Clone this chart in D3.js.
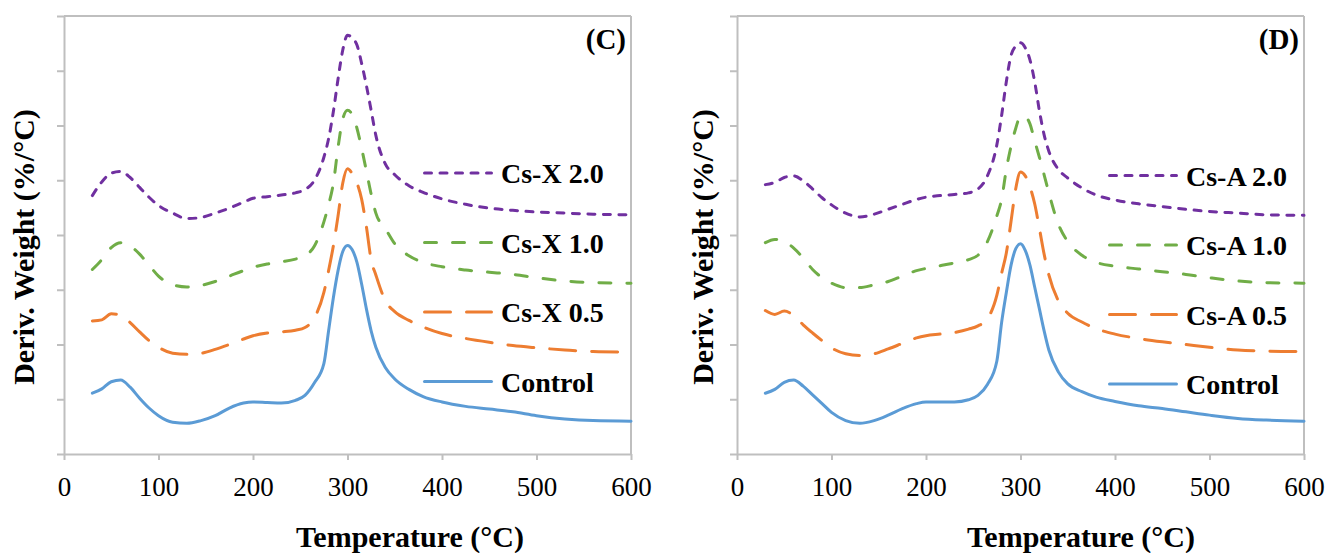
<!DOCTYPE html>
<html>
<head>
<meta charset="utf-8">
<script src="https://cdn.jsdelivr.net/npm/d3@7"></script>
<style>
  body { margin: 0; background: #fff; }
  text { font-family: 'Liberation Serif', 'Times New Roman', serif; fill: #000; }
</style>
</head>
<body>
<div id="chart-area"></div>
<script>
// Temperature grid (°C) shared by every curve
const temps = [30, 40, 50, 60, 70, 80, 90, 100, 115, 130, 145, 160, 175, 190, 200, 215, 230, 245, 255, 265,
  275, 280, 285, 290, 295, 300, 305, 310, 315, 320, 325, 330, 340, 350, 365, 380, 400, 425, 450, 475, 500, 530, 560, 600];

// Panel C (Cs-X) - deriv. weight, arbitrary offset units
const controlC = [1.11, 1.19, 1.32, 1.35, 1.22, 1.02, 0.84, 0.70, 0.58, 0.56, 0.61, 0.70, 0.84, 0.93, 0.95, 0.94, 0.93, 0.98, 1.07, 1.30,
  1.65, 2.25, 2.85, 3.35, 3.70, 3.81, 3.73, 3.50, 3.10, 2.65, 2.25, 1.95, 1.58, 1.37, 1.18, 1.05, 0.95, 0.87, 0.82, 0.77, 0.70, 0.64, 0.61, 0.60];
const csX05 = [2.43, 2.45, 2.56, 2.54, 2.40, 2.23, 2.07, 1.95, 1.84, 1.82, 1.84, 1.91, 2.00, 2.10, 2.16, 2.21, 2.23, 2.26, 2.31, 2.49,
  2.95, 3.35, 3.80, 4.35, 4.95, 5.21, 5.12, 4.95, 4.65, 4.15, 3.55, 3.27, 2.80, 2.60, 2.44, 2.32, 2.20, 2.11, 2.04, 1.98, 1.94, 1.90, 1.87, 1.86];
const csX10 = [3.37, 3.55, 3.77, 3.86, 3.80, 3.65, 3.45, 3.25, 3.09, 3.05, 3.08, 3.15, 3.25, 3.35, 3.41, 3.47, 3.51, 3.56, 3.62, 3.80,
  4.24, 4.55, 4.94, 5.60, 6.12, 6.28, 6.20, 5.95, 5.58, 5.17, 4.75, 4.40, 4.12, 3.84, 3.62, 3.50, 3.42, 3.36, 3.32, 3.28, 3.22, 3.16, 3.13, 3.12];
const csX20 = [4.72, 4.97, 5.13, 5.16, 5.05, 4.87, 4.69, 4.54, 4.40, 4.30, 4.32, 4.40, 4.49, 4.60, 4.67, 4.70, 4.73, 4.77, 4.83, 5.00,
  5.42, 5.76, 6.25, 6.85, 7.38, 7.65, 7.60, 7.47, 7.13, 6.73, 6.28, 5.82, 5.30, 5.10, 4.90, 4.78, 4.66, 4.56, 4.49, 4.45, 4.42, 4.40, 4.38, 4.37];

// Panel D (Cs-A)
const controlD = [1.11, 1.18, 1.31, 1.35, 1.24, 1.08, 0.92, 0.76, 0.61, 0.56, 0.61, 0.71, 0.83, 0.92, 0.95, 0.95, 0.95, 0.99, 1.07, 1.27,
  1.70, 2.40, 2.95, 3.45, 3.75, 3.84, 3.72, 3.45, 3.05, 2.65, 2.25, 1.90, 1.50, 1.28, 1.14, 1.04, 0.96, 0.88, 0.83, 0.77, 0.71, 0.65, 0.62, 0.60];
const csA05 = [2.62, 2.55, 2.61, 2.53, 2.36, 2.21, 2.07, 1.94, 1.83, 1.80, 1.83, 1.92, 2.02, 2.12, 2.16, 2.19, 2.22, 2.28, 2.34, 2.47,
  2.90, 3.30, 3.67, 4.25, 4.85, 5.15, 5.08, 4.88, 4.57, 4.12, 3.65, 3.27, 2.80, 2.57, 2.41, 2.29, 2.19, 2.11, 2.05, 2.00, 1.95, 1.90, 1.88, 1.87];
const csA10 = [3.86, 3.92, 3.88, 3.76, 3.58, 3.37, 3.22, 3.12, 3.04, 3.04, 3.09, 3.15, 3.25, 3.35, 3.39, 3.44, 3.49, 3.55, 3.63, 3.88,
  4.35, 4.65, 5.20, 5.62, 5.95, 6.17, 6.16, 6.03, 5.72, 5.42, 5.10, 4.77, 4.20, 3.88, 3.63, 3.50, 3.43, 3.38, 3.33, 3.28, 3.22, 3.16, 3.13, 3.12];
const csA20 = [4.92, 4.96, 5.05, 5.08, 4.99, 4.84, 4.68, 4.55, 4.40, 4.33, 4.38, 4.47, 4.56, 4.65, 4.69, 4.72, 4.74, 4.77, 4.84, 5.08,
  5.65, 6.18, 6.80, 7.28, 7.45, 7.51, 7.42, 7.20, 6.80, 6.27, 5.83, 5.53, 5.20, 5.04, 4.86, 4.73, 4.64, 4.57, 4.52, 4.47, 4.43, 4.40, 4.37, 4.36];

const namesC = ['Cs-X 2.0', 'Cs-X 1.0', 'Cs-X 0.5', 'Control'];
const namesD = ['Cs-A 2.0', 'Cs-A 1.0', 'Cs-A 0.5', 'Control'];
const xTickValues = [0, 100, 200, 300, 400, 500, 600];
const yTickValues = [0, 1, 2, 3, 4, 5, 6, 7, 8];

const width = 1327;
const height = 553;
const plotTop = 16;
const plotBottom = 454;
const axisColor = '#bfbfbf';
const fontFamily = "'Liberation Serif', 'Times New Roman', serif";

// line styles in legend order (2.0, 1.0, 0.5, Control)
const colors = ['#7030a0', '#70ad47', '#ed7d31', '#5b9bd5'];
const dashes = ['7,8.5', '12,16', '26,16', null];

const panels = [
  { label: '(C)', left: 64, right: 631, legendX: 423, legendY: 173, yTitleX: 34, xTitleX: 410,
    names: namesC, values: [csX20, csX10, csX05, controlC] },
  { label: '(D)', left: 737, right: 1304, legendX: 1108, legendY: 175.5, yTitleX: 713, xTitleX: 1081,
    names: namesD, values: [csA20, csA10, csA05, controlD] },
];

const svg = d3.select('#chart-area')
  .append('svg')
  .attr('width', width)
  .attr('height', height)
  .style('font-family', fontFamily);

const yScale = d3.scaleLinear().domain([0, 8]).range([plotBottom, plotTop]);

panels.forEach((p) => {
  const xScale = d3.scaleLinear().domain([0, 600]).range([p.left, p.right]);
  const g = svg.append('g');

  // top + right frame
  g.append('line')
    .attr('x1', xScale(0)).attr('x2', xScale(600))
    .attr('y1', yScale(8)).attr('y2', yScale(8))
    .attr('stroke', axisColor).attr('stroke-width', 2);
  g.append('line')
    .attr('x1', xScale(600)).attr('x2', xScale(600))
    .attr('y1', yScale(8)).attr('y2', yScale(0))
    .attr('stroke', axisColor).attr('stroke-width', 2);

  // Y axis (no labels)
  const gY = g.append('g')
    .attr('transform', `translate(${p.left}, 0)`)
    .call(d3.axisLeft(yScale).tickValues(yTickValues).tickSize(7).tickSizeOuter(0).tickFormat(''));

  // X axis
  const gX = g.append('g')
    .attr('transform', `translate(0, ${plotBottom})`)
    .call(d3.axisBottom(xScale).tickValues(xTickValues).tickSize(6).tickSizeOuter(0));
  gX.attr('font-family', fontFamily).attr('font-size', 27);
  gX.selectAll('text')
    .attr('dy', null)
    .attr('y', 41.5)
    .style('font-family', fontFamily)
    .style('font-size', '27px');

  [gX, gY].forEach((a) => {
    a.selectAll('path, line').attr('stroke', axisColor).attr('stroke-width', 2);
  });

  // curves, Control drawn first
  const line = d3.line()
    .x((d, i) => xScale(temps[i]))
    .y((d) => yScale(d))
    .curve(d3.curveMonotoneX);

  for (let i = p.values.length - 1; i >= 0; i--) {
    g.append('path')
      .attr('d', line(p.values[i]))
      .attr('fill', 'none')
      .attr('stroke', colors[i])
      .attr('stroke-width', 3)
      .attr('stroke-linecap', 'round')
      .attr('stroke-dasharray', dashes[i]);
  }

  // legend
  const rows = g.selectAll('.legend-row')
    .data(p.names)
    .enter()
    .append('g')
    .attr('class', 'legend-row')
    .attr('transform', (d, i) => `translate(${p.legendX}, ${p.legendY + i * 69.5})`);
  rows.append('line')
    .attr('x1', 1.5).attr('x2', 68.5)
    .attr('stroke', (d, i) => colors[i])
    .attr('stroke-width', 3)
    .attr('stroke-linecap', 'round')
    .attr('stroke-dasharray', (d, i) => dashes[i]);
  rows.append('text')
    .attr('x', 78)
    .attr('y', 10)
    .style('font-size', '28px')
    .style('font-weight', 'bold')
    .text((d) => d);

  // panel label
  g.append('text')
    .attr('x', p.right - 5)
    .attr('y', 49)
    .attr('text-anchor', 'end')
    .style('font-size', '29px')
    .style('font-weight', 'bold')
    .text(p.label);

  // axis titles
  g.append('text')
    .attr('x', p.xTitleX)
    .attr('y', 546.5)
    .attr('text-anchor', 'middle')
    .style('font-size', '30px')
    .style('font-weight', 'bold')
    .text('Temperature (°C)');

  g.append('text')
    .attr('transform', `translate(${p.yTitleX}, 247) rotate(-90)`)
    .attr('text-anchor', 'middle')
    .style('font-size', '30px')
    .style('font-weight', 'bold')
    .text('Deriv. Weight (%/°C)');
});
</script>
</body>
</html>
